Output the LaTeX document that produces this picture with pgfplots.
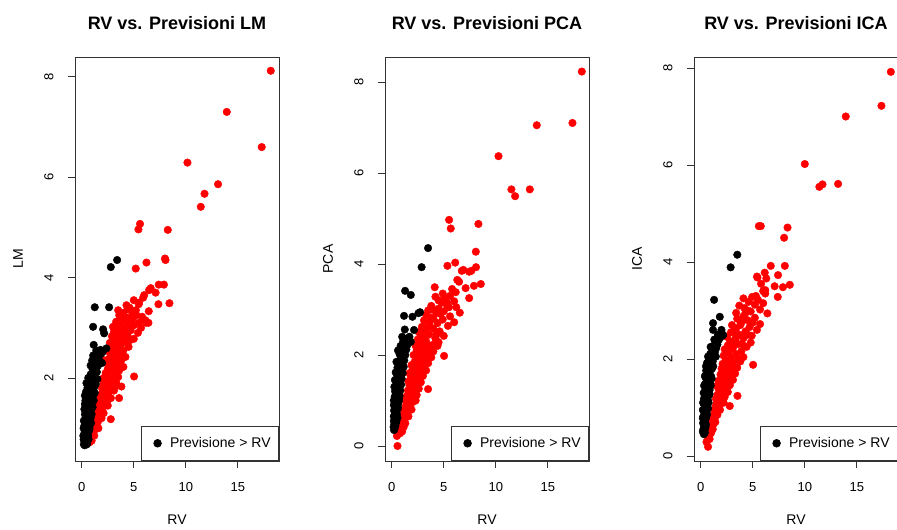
\documentclass[border=0pt]{standalone}
\usepackage{fontspec}
\setmainfont{Liberation Sans}
\usepackage{pgfplots}
\pgfplotsset{compat=1.18}

% one R-style scatter panel, 1pt = 1px of the reference
\pgfplotsset{
  rpanel/.style={
    scale only axis, width=204pt, height=404pt, anchor=south west,
    xmin=-0.65, xmax=18.96, xtick={0,5,10,15},
    axis line style={black!80, line width=0.8pt},
    tick style={black!80, line width=0.8pt},
    tick align=outside, major tick length=7pt,
    xtick pos=left, ytick pos=left,
    /pgf/number format/assume math mode=true,
    tick label style={font=\fontsize{13}{15}\selectfont, black},
    yticklabel style={rotate=90, anchor=south},
    xticklabel shift=11pt, yticklabel shift=11pt,
    xlabel=RV,
    every axis x label/.style={at={(axis description cs:0.5,-0.146)}, anchor=center, font=\fontsize{14}{16}\selectfont},
    every axis y label/.style={at={(axis description cs:-0.279,0.5)}, rotate=90, anchor=center, font=\fontsize{14}{16}\selectfont},
    every axis title/.style={at={(axis description cs:0.5,1.085)}, anchor=center, font=\fontsize{18}{20}\selectfont\bfseries},
    legend style={at={(1,0)}, anchor=south east, draw=black!80, line width=0.8pt,
      font=\fontsize{14}{16}\selectfont, inner xsep=6pt, inner ysep=9.5pt, cells={anchor=west}},
  },
  redpts/.style={only marks, mark=*, mark size=3.8pt, red, forget plot},
  % black points: marks without a connecting line, legend dot set further in
  blkpts/.style={draw=none, mark=*, mark size=3.8pt, black,
    mark options={draw=black, fill=black},
    legend image code/.code={\path[##1, mark repeat=2, mark phase=2] plot coordinates {(0pt,0pt) (10.5pt,0pt) (21pt,0pt)};}},
}

\begin{document}
\begin{tikzpicture}
\useasboundingbox (0,0) rectangle (897pt,530pt);

% ---------------- LM ----------------
\begin{axis}[rpanel, at={(75pt,69pt)}, ymin=0.347, ymax=8.394, ytick={2,4,6,8},
  title={RV vs. Previsioni LM}, ylabel={LM}]
\addplot[redpts] coordinates {
(0.75,0.72)(0.9,0.8)(1.0,0.85)(1.05,0.92)(1.2,0.95)(1.3,1.0)(1.15,1.05)(1.45,1.08)(1.25,1.12)(1.6,1.15)
(1.4,1.2)(2.79,1.18)(1.7,1.25)(1.35,1.28)(1.55,1.3)(1.8,1.33)(1.5,1.38)(2.0,1.4)(1.7,1.43)(2.2,1.46)
(1.45,1.48)(1.9,1.5)(2.4,1.52)(1.65,1.55)(2.1,1.57)(3.59,1.60)(2.6,1.58)(1.8,1.62)(2.3,1.64)(1.9,1.68)
(2.5,1.7)(2.1,1.72)(2.8,1.75)(2.3,1.78)(1.95,1.8)(2.6,1.82)(3.0,1.85)(2.2,1.87)(2.7,1.9)(3.3,1.92)
(2.4,1.95)(2.9,1.97)(3.81,1.83)(5.03,2.03)(2.1,2.0)(3.5,2.02)(2.6,2.05)(3.1,2.08)(2.3,2.1)(2.8,2.13)
(3.6,2.15)(2.5,2.18)(3.2,2.2)(4.0,2.22)(2.7,2.25)(3.4,2.28)(2.4,2.3)(3.0,2.33)(3.8,2.35)(2.6,2.38)
(3.3,2.4)(4.2,2.42)(2.9,2.45)(3.6,2.47)(2.7,2.5)(3.2,2.52)(4.0,2.55)(2.8,2.58)(3.5,2.6)(4.5,2.62)
(3.0,2.65)(3.8,2.68)(2.7,2.7)(4.2,2.72)(3.3,2.75)(5.0,2.78)(3.6,2.8)(2.9,2.83)(4.4,2.85)(3.9,2.9)
(3.1,2.92)(4.7,2.95)(3.5,2.98)(5.4,2.9)(3.0,3.02)(3.7,3.05)(4.5,3.08)(5.5,3.1)(6.2,3.1)(3.3,3.12)
(4.1,3.15)(4.9,3.18)(3.8,3.2)(5.26,3.25)(4.87,3.29)(4.42,3.37)(6.41,3.10)(6.12,3.15)(4.0,3.3)(5.8,3.22)
(3.5,3.35)(6.44,3.33)(5.48,3.47)(7.37,3.47)(8.43,3.49)(4.3,3.45)(5.0,3.55)(5.9,3.6)(6.47,3.75)(6.63,3.79)
(7.1,3.70)(7.4,3.86)(7.9,3.86)(6.0,3.65)(5.19,4.18)(6.22,4.30)(8.0,4.38)(8.05,4.35)(5.6,5.07)(5.45,4.96)
(8.27,4.95)(10.16,6.29)(13.1,5.86)(11.8,5.67)(11.44,5.41)(13.94,7.30)(17.3,6.60)(18.17,8.12)
(1.6,1.0)(1.9,1.2)(2.1,1.3)(2.5,1.45)(2.8,1.6)(3.1,1.75)(3.4,1.85)(2.0,1.62)(2.4,1.85)(2.9,2.1)
(3.4,2.25)(3.9,2.4)(2.2,2.35)(2.5,2.55)(3.0,2.5)(3.4,2.65)(4.1,2.8)(4.6,2.75)(3.2,2.9)(4.0,3.0)
(4.3,2.95)(5.0,3.05)(5.7,3.0)(3.6,3.25)(4.6,3.4)(5.2,3.35)(3.3,2.3)(2.1,1.9)(1.8,1.45)(1.4,1.15)
(1.2,0.85)(0.95,0.75)(2.6,2.3)(3.7,2.6)(4.4,3.2)(5.5,3.5)
};
\addplot[blkpts] coordinates {
(0.20,0.68)(0.28,0.66)(0.35,0.70)(0.45,0.72)(0.55,0.75)(0.25,0.75)(0.18,0.78)(0.38,0.80)(0.50,0.82)(0.62,0.85)
(0.30,0.85)(0.22,0.88)(0.42,0.90)(0.55,0.92)(0.70,0.95)(0.28,0.95)(0.35,1.00)(0.48,1.02)(0.62,1.05)(0.78,1.08)
(0.25,1.05)(0.40,1.10)(0.55,1.12)(0.70,1.15)(0.32,1.18)(0.85,1.20)(0.45,1.22)(0.60,1.25)(0.30,1.28)(0.75,1.30)
(0.50,1.33)(0.38,1.36)(0.90,1.38)(0.65,1.40)(0.42,1.45)(0.80,1.47)(0.55,1.50)(1.00,1.52)(0.35,1.55)(0.70,1.57)
(0.48,1.60)(0.90,1.62)(1.10,1.65)(0.60,1.68)(0.40,1.72)(0.80,1.74)(1.00,1.78)(0.55,1.80)(1.20,1.82)(0.70,1.85)
(0.55,1.86)(0.90,1.90)(1.10,1.93)(0.75,1.97)(1.30,2.00)(1.00,2.03)(0.85,2.07)(1.20,2.10)(1.45,2.12)(1.05,2.17)
(1.35,2.20)(1.55,2.24)(1.20,2.28)(1.45,2.32)(1.70,2.35)(1.35,2.40)(1.60,2.44)(1.85,2.48)(1.63,2.49)(2.00,2.52)
(2.37,2.59)(1.80,2.56)(1.15,2.66)(2.05,2.97)(2.15,2.89)(1.09,3.02)(1.25,3.41)(2.63,3.41)(2.79,4.21)(3.40,4.35)
(0.30,0.72)(0.50,0.68)(0.65,0.78)(0.15,0.85)(0.75,1.00)(0.18,1.00)(0.90,1.10)(0.20,1.15)(0.95,1.28)(0.25,1.38)
(1.05,1.42)(0.30,1.48)(1.15,1.55)(0.30,1.65)(1.25,1.70)(0.45,1.90)(1.35,1.88)(0.62,2.00)(1.50,1.98)(0.85,2.25)
(1.00,2.35)(1.10,2.45)(1.40,2.55)(1.95,2.30)
};
\addlegendentry{Previsione > RV}
\end{axis}

% ---------------- PCA ----------------
\begin{axis}[rpanel, at={(385pt,69pt)}, ymin=-0.33, ymax=8.55, ytick={0,2,4,6,8},
  title={RV vs. Previsioni PCA}, ylabel={PCA}]
\addplot[redpts] coordinates {
(0.55,0.0)(0.5,0.22)(0.8,0.28)(1.0,0.32)(0.65,0.38)(1.15,0.42)(0.85,0.5)
(1.0,0.55)(1.25,0.6)(1.1,0.68)(1.4,0.72)(1.2,0.78)(1.6,0.82)(1.35,0.88)(1.8,0.9)(1.5,0.95)(2.1,0.98)(1.3,1.0)
(1.7,1.04)(2.0,1.08)(1.45,1.1)(2.4,1.12)(1.8,1.16)(2.2,1.2)(3.49,1.25)(1.55,1.22)(2.6,1.26)(2.0,1.3)(1.7,1.34)(2.4,1.36)(2.8,1.4)
(1.6,1.42)(2.1,1.45)(2.6,1.48)(1.85,1.52)(3.0,1.54)(2.35,1.58)(1.7,1.6)(2.8,1.63)(3.3,1.66)(2.0,1.68)(2.5,1.72)(3.1,1.75)(1.9,1.78)(2.7,1.8)
(3.5,1.82)(2.2,1.85)(3.0,1.88)(2.5,1.92)(3.8,1.95)(5.03,1.98)(2.1,2.0)(3.3,2.02)(2.8,2.05)(4.0,2.08)(2.4,2.1)(3.6,2.13)(3.0,2.16)(2.3,2.2)
(3.9,2.22)(2.7,2.25)(4.5,2.28)(3.3,2.3)(2.5,2.34)(4.2,2.36)(3.0,2.4)(5.0,2.42)(3.6,2.45)(2.6,2.5)(4.6,2.52)(3.2,2.55)(4.0,2.58)
(2.9,2.62)(5.4,2.64)(3.6,2.66)(4.4,2.7)(6.0,2.72)(3.1,2.76)(4.9,2.78)(3.8,2.82)(5.6,2.85)(3.3,2.88)(6.54,2.93)(4.3,2.92)(5.0,2.96)(3.5,2.98)
(4.5,3.02)(6.2,3.05)(3.8,3.08)(5.3,3.1)(4.8,3.15)(4.5,3.2)(5.3,3.15)(6.0,3.18)(7.44,3.25)(4.2,3.28)(5.6,3.3)(6.15,3.38)(4.9,3.35)(4.13,3.49)(7.1,3.47)(7.9,3.52)(8.56,3.56)
(6.3,3.65)(6.47,3.61)(6.88,3.87)(7.65,3.85)(6.73,3.85)(7.44,3.83)(8.1,3.93)(5.35,3.96)(6.1,4.03)(8.08,4.27)(5.51,4.97)(5.67,4.78)(8.33,4.88)
(10.26,6.37)(11.5,5.64)(11.86,5.49)(13.27,5.64)(13.94,7.05)(17.37,7.1)(18.27,8.23)
(0.9,0.4)(1.3,0.5)(1.6,0.65)(1.9,0.8)(2.3,1.0)(2.0,1.25)(2.6,1.55)(3.0,1.7)(3.3,1.9)(3.7,2.0)
(2.7,2.3)(3.5,2.2)(4.3,2.45)(2.8,2.45)(3.4,2.6)(4.0,2.8)(4.7,2.9)(3.9,3.0)(5.5,3.05)(3.6,2.72)
(5.1,3.25)(5.8,3.45)(2.2,1.55)(1.8,1.25)(1.5,1.1)(4.4,2.2)(2.9,1.95)
};
\addplot[blkpts] coordinates {
(0.22,0.35)(0.30,0.40)(0.25,0.48)(0.38,0.50)(0.20,0.55)(0.32,0.60)(0.42,0.62)(0.26,0.68)(0.48,0.70)(0.35,0.75)
(0.22,0.78)(0.55,0.80)(0.40,0.85)(0.28,0.88)(0.60,0.92)(0.45,0.95)(0.32,0.98)(0.70,1.00)(0.50,1.05)(0.28,1.08)
(0.75,1.10)(0.40,1.12)(0.58,1.16)(0.32,1.20)(0.82,1.22)(0.48,1.25)(0.65,1.28)(0.38,1.32)(0.90,1.35)(0.55,1.38)
(0.72,1.42)(0.42,1.45)(0.95,1.48)(0.60,1.52)(0.80,1.55)(0.48,1.58)(1.05,1.60)(0.68,1.64)(0.88,1.68)(0.55,1.72)
(1.15,1.74)(0.75,1.78)(0.95,1.82)(0.62,1.85)(1.20,1.88)(0.85,1.92)(1.05,1.96)(1.30,2.00)(0.75,2.02)(0.95,2.06)
(1.15,2.10)(1.40,2.12)(1.05,2.16)(1.25,2.20)(1.50,2.22)(1.83,2.29)(1.35,2.26)(1.60,2.30)
(1.25,2.56)(2.14,2.55)(1.18,2.86)(1.99,2.84)(2.57,2.92)(2.72,2.94)(1.28,3.41)(1.83,3.32)(2.87,3.93)(3.49,4.35)
(0.18,0.42)(0.35,0.45)(0.45,0.55)(0.20,0.65)(0.55,0.62)(0.20,0.90)(0.60,0.85)(0.20,1.00)(0.65,1.05)(0.25,1.30)
(0.75,1.30)(0.30,1.45)(0.85,1.45)(0.38,1.62)(0.95,1.65)(0.45,1.85)(1.05,1.85)(0.60,2.10)(0.85,2.20)(1.10,2.30)
(1.40,2.35)(1.70,2.40)(1.00,2.40)
};
\addlegendentry{Previsione > RV}
\end{axis}

% ---------------- ICA ----------------
\begin{axis}[rpanel, at={(694pt,69pt)}, ymin=-0.103, ymax=8.227, ytick={0,2,4,6,8},
  title={RV vs. Previsioni ICA}, ylabel={ICA}]
\addplot[redpts] coordinates {
(0.7,0.19)(0.55,0.29)(0.85,0.35)(0.6,0.42)(1.0,0.48)(0.8,0.52)
(1.1,0.58)(1.2,0.65)(1.05,0.72)(1.35,0.78)(1.2,0.84)(1.55,0.9)(1.3,0.96)(2.79,1.03)(1.7,1.0)(1.45,1.05)(1.9,1.08)(1.6,1.12)(2.1,1.15)
(1.45,1.18)(1.8,1.2)(3.53,1.24)(2.3,1.22)(1.6,1.26)(2.05,1.3)(2.6,1.32)(1.75,1.36)(2.3,1.4)(1.55,1.44)(2.8,1.46)(2.0,1.48)
(2.5,1.52)(1.7,1.55)(3.1,1.57)(2.2,1.6)(2.7,1.64)(1.9,1.68)(3.3,1.7)(2.4,1.73)(2.9,1.77)(2.0,1.8)(3.5,1.82)(2.6,1.85)
(5.03,1.88)(2.1,1.9)(3.1,1.92)(3.8,1.95)(2.4,1.98)(2.9,2.02)(4.1,2.04)(2.2,2.07)(3.4,2.1)(2.7,2.13)(3.9,2.16)(2.3,2.2)
(3.1,2.23)(4.4,2.25)(2.6,2.28)(3.6,2.31)(4.8,2.34)(2.8,2.37)(3.3,2.4)(4.1,2.43)(2.5,2.46)(4.9,2.48)(3.7,2.5)
(2.9,2.55)(4.3,2.57)(5.4,2.6)(3.4,2.63)(4.7,2.66)(3.0,2.7)(5.7,2.72)(3.9,2.75)(4.5,2.8)(3.5,2.83)(5.2,2.85)(6.4,2.94)(4.1,2.88)
(3.4,2.95)(4.8,2.98)(5.7,3.02)(4.2,3.05)(3.7,3.1)(5.2,3.12)(6.0,3.15)(4.6,3.18)(4.94,3.28)(5.5,3.22)(4.1,3.25)(7.4,3.28)
(6.2,3.42)(6.2,3.35)(7.1,3.5)(8.56,3.53)(7.9,3.48)(5.41,3.7)(6.15,3.78)(6.3,3.66)(7.43,3.73)(6.73,3.92)(8.08,3.92)(5.45,3.68)
(5.58,4.74)(5.77,4.74)(8.34,4.71)(8.01,4.5)
(10.0,6.02)(11.4,5.55)(11.7,5.6)(13.2,5.61)(13.94,7.0)(17.37,7.22)(18.27,7.92)
(0.9,0.45)(1.15,0.55)(1.4,0.7)(1.6,0.85)(1.85,0.95)(2.2,1.1)(2.0,1.35)(2.5,1.4)(2.9,1.6)(3.2,1.8)
(3.6,2.0)(2.5,2.15)(3.0,2.3)(4.0,2.3)(4.5,2.5)(3.3,2.55)(3.8,2.7)(5.0,2.75)(4.3,2.95)(5.3,3.3)
(6.0,3.4)(5.8,3.55)(2.7,1.9)(3.4,2.45)(4.5,3.0)(2.3,1.7)
};
\addplot[blkpts] coordinates {
(0.30,0.45)(0.40,0.48)(0.25,0.55)(0.45,0.58)(0.32,0.62)(0.22,0.68)(0.42,0.70)(0.30,0.75)(0.50,0.78)(0.25,0.82)
(0.38,0.86)(0.55,0.90)(0.28,0.94)(0.45,0.98)(0.62,1.02)(0.33,1.06)(0.52,1.10)(0.70,1.14)(0.30,1.18)(0.45,1.22)
(0.78,1.25)(0.60,1.28)(0.36,1.32)(0.85,1.36)(0.50,1.40)(0.68,1.44)(0.40,1.48)(0.92,1.50)(0.58,1.54)(0.76,1.58)
(0.45,1.62)(1.00,1.64)(0.65,1.68)(0.85,1.72)(0.52,1.76)(1.08,1.80)(0.72,1.84)(0.92,1.88)(0.60,1.92)(1.15,1.95)
(0.80,1.99)(1.02,2.03)(1.25,2.06)(0.90,2.10)(1.35,2.14)(1.10,2.18)(1.48,2.22)(1.22,2.26)(1.60,2.30)(1.40,2.35)
(1.75,2.40)(2.15,2.49)(1.90,2.45)
(1.18,2.74)(1.18,2.60)(1.99,2.60)(1.83,2.87)(1.28,3.22)(2.87,3.89)(3.51,4.15)
(0.20,0.50)(0.35,0.52)(0.50,0.65)(0.20,0.78)(0.60,0.85)(0.20,0.95)(0.70,0.98)(0.22,1.10)(0.75,1.10)(0.28,1.30)
(0.85,1.28)(0.32,1.45)(0.95,1.45)(0.40,1.65)(1.05,1.60)(0.50,1.85)(1.20,1.85)(0.70,2.05)(1.45,2.05)(0.95,2.25)
(1.30,2.40)(1.65,2.50)(2.00,2.55)
};
\addlegendentry{Previsione > RV}
\end{axis}
\end{tikzpicture}
\end{document}
